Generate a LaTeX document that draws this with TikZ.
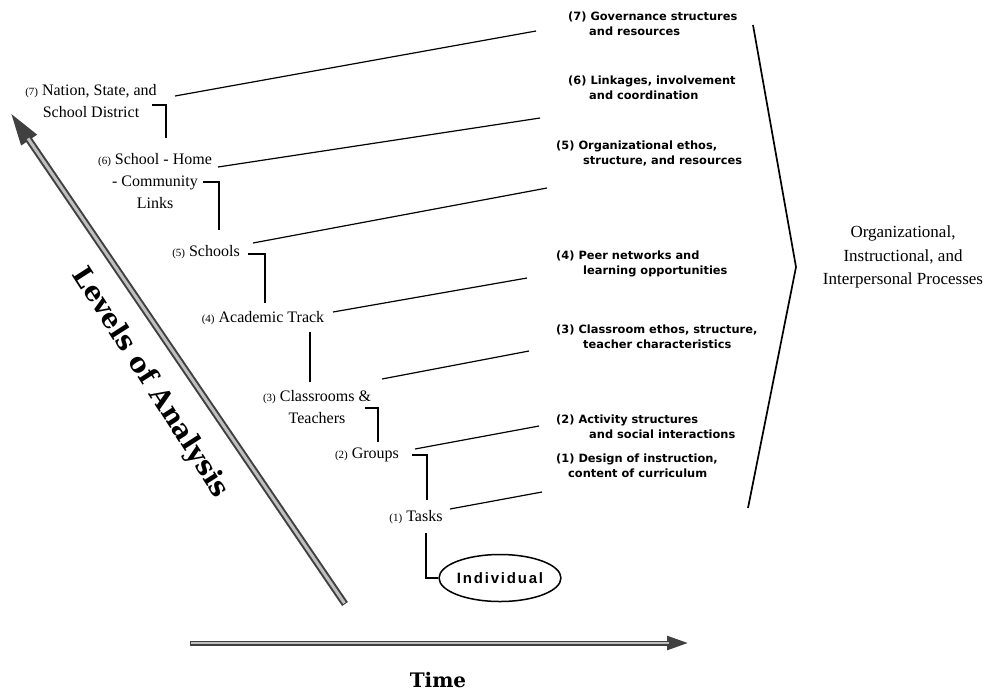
\documentclass[tikz,border=0pt]{standalone}
\usepackage{fontspec}
\setmainfont{Liberation Serif}
\newfontfamily\rightfont{DejaVu Sans}
\newfontfamily\slabfont{DejaVu Serif}
\newfontfamily\indfont[LetterSpace=12]{Liberation Sans}
\usetikzlibrary{arrows.meta,shapes.geometric}
\newcommand\lnum[1]{{\fontsize{11}{11}\selectfont(#1)}}
\begin{document}
\begin{tikzpicture}[x=1pt,y=-1pt,
  leftlab/.style={font=\fontsize{16}{22}\selectfont, align=center, inner sep=0pt},
  rightlab/.style={font=\rightfont\bfseries\fontsize{11.4}{14.5}\selectfont, align=left, anchor=base west, inner sep=0pt},
  conn/.style={line width=1.2pt, black},
  brack/.style={line width=1.9pt, black},
  bigarrow/.style={line width=7pt, black!75},
  biginner/.style={line width=3pt, gray!50}
]
\useasboundingbox (0,0) rectangle (992,697);

% left labels
\node[leftlab] (L7) at (91,101) {\lnum{7} Nation, State, and\\School District};
\node[leftlab] (L6) at (155,181) {\lnum{6} School - Home\\- Community\\Links};
\node[leftlab] (L5) at (206,252) {\lnum{5} Schools};
\node[leftlab] (L4) at (263,318) {\lnum{4} Academic Track};
\node[leftlab] (L3) at (317,407) {\lnum{3} Classrooms \&\\Teachers};
\node[leftlab] (L2) at (367,455) {\lnum{2} Groups};
\node[leftlab] (L1) at (416,517) {\lnum{1} Tasks};
\node[draw, ellipse, line width=1.5pt, minimum width=115, minimum height=47, inner sep=0pt,
      font=\indfont\bfseries\fontsize{15}{15}\selectfont] (ind) at (500,578) {Individual};

% right labels (anchor = baseline of second line)
\node[rightlab] (R7) at (568,35) {(7) Governance structures\\\hspace*{21pt}and resources};
\node[rightlab] (R6) at (568,99) {(6) Linkages, involvement\\\hspace*{21pt}and coordination};
\node[rightlab] (R5) at (556,164) {(5) Organizational ethos,\\\hspace*{27pt}structure, and resources};
\node[rightlab] (R4) at (556,274) {(4) Peer networks and\\\hspace*{27pt}learning opportunities};
\node[rightlab] (R3) at (556,348) {(3) Classroom ethos, structure,\\\hspace*{27pt}teacher characteristics};
\node[rightlab] (R2) at (556,438) {(2) Activity structures\\\hspace*{33pt}and social interactions};
\node[rightlab] (R1) at (556,477) {(1) Design of instruction,\\\hspace*{12pt}content of curriculum};

\node[font=\fontsize{17}{23.5}\selectfont, align=center] (proc) at (903,257)
  {Organizational,\\Instructional, and\\Interpersonal Processes};

% connector end points
\coordinate (a7) at (175,96);  \coordinate (b7) at (536,31);
\coordinate (a6) at (218,167); \coordinate (b6) at (540,118);
\coordinate (a5) at (253,243); \coordinate (b5) at (547,188);
\coordinate (a4) at (333,312); \coordinate (b4) at (527,278);
\coordinate (a3) at (382,379); \coordinate (b3) at (529,351);
\coordinate (a2) at (415,449); \coordinate (b2) at (539,426);
\coordinate (a1) at (450,509); \coordinate (b1) at (542,492);
\foreach \i in {1,...,7} { \draw[conn] (a\i) -- (b\i); }

% brackets between levels
\coordinate (k7s) at (152,105); \coordinate (k7e) at (166,138);
\coordinate (k6s) at (203,182); \coordinate (k6e) at (219,230);
\coordinate (k5s) at (248,254); \coordinate (k5e) at (265,303);
\coordinate (k4s) at (310,332); \coordinate (k4e) at (310,382);
\coordinate (k3s) at (365,408); \coordinate (k3e) at (378,442);
\coordinate (k2s) at (412,455); \coordinate (k2e) at (427,500);
\coordinate (k1s) at (426,533);
\draw[brack] (k7s) -| (k7e);
\draw[brack] (k6s) -| (k6e);
\draw[brack] (k5s) -| (k5e);
\draw[brack] (k4s) -- (k4e);
\draw[brack] (k3s) -| (k3e);
\draw[brack] (k2s) -| (k2e);
\draw[brack] (k1s) |- (ind.west);

% right bracket
\coordinate (p1) at (753,25); \coordinate (p2) at (796,267); \coordinate (p3) at (748,508);
\draw[line width=1.7pt, line join=miter] (p1) -- (p2) -- (p3);

% levels of analysis arrow
\coordinate (lvtail) at (345,604); \coordinate (lvtip) at (10,112);
\draw[bigarrow, -{Triangle[length=34pt, width=17pt]}] (lvtail) -- (lvtip);
\draw[biginner, shorten >=32pt, shorten <=1pt] (lvtail) -- (lvtip);
\node[font=\slabfont\bfseries\fontsize{27}{27}\selectfont, rotate=-57.4, inner sep=0pt] (levels) at (150,383) {Levels of Analysis};

% time arrow
\coordinate (ttail) at (190,643); \coordinate (ttip) at (689,643);
\draw[line width=5pt, black!75, -{Triangle[length=22pt, width=13pt]}] (ttail) -- (ttip);
\draw[line width=2pt, gray!50, shorten >=20pt, shorten <=1pt] (ttail) -- (ttip);
\node[font=\slabfont\bfseries\fontsize{20}{20}\selectfont] (time) at (438,680) {Time};
\end{tikzpicture}
\end{document}
